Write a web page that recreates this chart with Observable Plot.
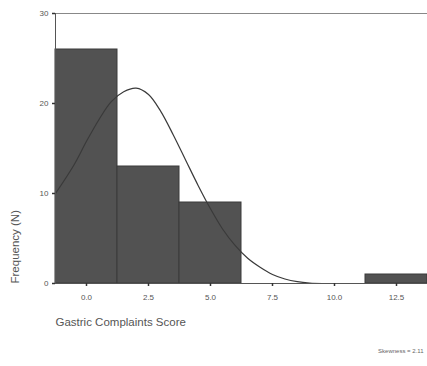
<!DOCTYPE html>
<html>
<head>
<meta charset="utf-8">
<script src="https://cdn.jsdelivr.net/npm/d3@7"></script>
<script src="https://cdn.jsdelivr.net/npm/@observablehq/plot@0.6"></script>
<style>
  html, body { margin: 0; padding: 0; background: #fff; }
</style>
</head>
<body>
<div id="chart"></div>
<script>
// Histogram bins (centre of each bin, bin width 2.5) and counts
const binCenters = [0, 2.5, 5, 12.5];
const binCounts = [26, 13, 9, 1];
const binWidth = 2.5;

// Fitted normal curve
const curveX = [-1.25, -0.5, 0, 0.5, 1.0, 1.5, 2.0, 2.5, 3.0, 3.5, 4.0, 4.5, 5.0, 5.5, 6.0, 6.5, 7.0, 7.5, 8.0, 8.5, 9.0, 9.5];
const curveY = [10.0, 13.2, 15.8, 18.2, 20.2, 21.3, 21.7, 21.0, 19.1, 16.5, 13.7, 10.9, 8.3, 6.0, 4.2, 2.8, 1.8, 1.0, 0.5, 0.2, 0.05, 0.0];

// Ticks
const xTicks = [0, 2.5, 5, 7.5, 10, 12.5];
const yTicks = [0, 10, 20, 30];

// Texts
const xTitle = "Gastric Complaints Score";
const yTitle = "Frequency (N)";
const note = "Skewness = 2.11";

const bars = binCenters.map((c, i) => ({x1: c - binWidth / 2, x2: c + binWidth / 2, n: binCounts[i]}));
const curve = curveX.map((x, i) => ({x, y: curveY[i]}));

const chart = Plot.plot({
  width: 427,
  height: 366,
  marginLeft: 55,
  marginRight: 0,
  marginTop: 13,
  marginBottom: 83,
  style: {fontFamily: "'Liberation Sans', Arial, sans-serif", fontSize: "8px", color: "#555", background: "#fff"},
  x: {domain: [-1.25, 13.75]},
  y: {domain: [0, 30]},
  marks: [
    Plot.rectY(bars, {x1: "x1", x2: "x2", y: "n", fill: "#525252", stroke: "#3a3a3a", strokeWidth: 1}),
    Plot.line(curve, {x: "x", y: "y", curve: "catmull-rom", stroke: "#3a3a3a", strokeWidth: 1.2}),
    Plot.ruleY([30], {stroke: "#888", strokeWidth: 1.2}),
    Plot.ruleY([0], {stroke: "#555", strokeWidth: 1}),
    Plot.ruleX([-1.25], {stroke: "#555", strokeWidth: 1}),
    Plot.axisX({ticks: xTicks, tickFormat: d3.format(".1f"), tickSize: 3, tickPadding: 8, label: null, stroke: "#333", strokeWidth: 1.5}),
    Plot.axisY({ticks: yTicks, tickSize: 3, tickPadding: 4, label: null, stroke: "#333", strokeWidth: 1.5}),
    Plot.text([xTitle], {frameAnchor: "bottom-left", text: d => d, dy: 42, textAnchor: "start", fontSize: 11.5, fill: "#555"}),
    Plot.text([yTitle], {frameAnchor: "bottom-left", text: d => d, dx: -37, dy: 0, rotate: -90, textAnchor: "start", fontSize: 11.5, fill: "#555"}),
    Plot.text([note], {frameAnchor: "bottom-right", text: d => d, dx: -4, dy: 69, textAnchor: "end", fontSize: 6, fill: "#666"})
  ]
});
document.getElementById("chart").appendChild(chart);
</script>
</body>
</html>
